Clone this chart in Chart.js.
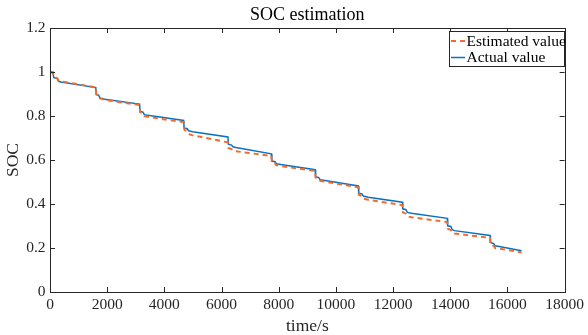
<!DOCTYPE html>
<html>
<head>
<meta charset="utf-8">
<script src="https://cdn.jsdelivr.net/npm/chart.js@4"></script>
<style>
html,body{margin:0;padding:0;background:#fff;}
#wrap{width:588px;height:335px;position:relative;}
</style>
</head>
<body>
<div id="wrap"><canvas id="c" width="588" height="335"></canvas></div>
<script>
// ---- data ----
const chartTitle = 'SOC estimation';
const xAxisTitle = 'time/s';
const yAxisTitle = 'SOC';
const seriesNames = ['Estimated value', 'Actual value'];

const timeActual = [0, 100, 130, 250, 300, 383, 1602, 1620, 1700, 1750, 1915, 3134, 3150, 3250, 3300, 3482,
  4677, 4690, 4800, 4850, 4990, 6222, 6240, 6350, 6400, 6500, 7741, 7760, 7870, 7920, 8067,
  9273, 9290, 9400, 9450, 9680, 10784, 10800, 10910, 10960, 11132, 12326, 12340, 12450, 12500, 12640,
  13893, 13910, 14020, 14070, 14147, 15390, 15405, 15520, 15570, 15715, 16495];
const socActual = [1.000, 1.000, 0.975, 0.970, 0.958, 0.955, 0.929, 0.897, 0.895, 0.882, 0.876, 0.854, 0.822, 0.818, 0.806, 0.802,
  0.780, 0.746, 0.742, 0.733, 0.728, 0.705, 0.672, 0.668, 0.660, 0.657, 0.628, 0.595, 0.592, 0.583, 0.580,
  0.556, 0.524, 0.520, 0.510, 0.506, 0.482, 0.449, 0.446, 0.436, 0.431, 0.408, 0.378, 0.374, 0.362, 0.358,
  0.335, 0.301, 0.298, 0.283, 0.279, 0.257, 0.225, 0.220, 0.210, 0.207, 0.187];

const timeEstimated = [0, 100, 130, 250, 300, 383, 1602, 1620, 1700, 1750, 1915, 3134, 3150, 3250, 3300, 3482,
  4677, 4700, 4800, 4850, 4990, 6222, 6240, 6350, 6400, 6500, 7741, 7760, 7870, 7920, 8067,
  9273, 9290, 9400, 9450, 9680, 10784, 10800, 10910, 10960, 11132, 12326, 12340, 12450, 12500, 12640,
  13893, 13910, 14020, 14070, 14147, 15390, 15405, 15520, 15570, 15715, 16495];
const socEstimated = [1.000, 0.995, 0.978, 0.972, 0.962, 0.958, 0.930, 0.898, 0.893, 0.880, 0.873, 0.850, 0.818, 0.812, 0.800, 0.795,
  0.772, 0.738, 0.728, 0.718, 0.712, 0.680, 0.655, 0.650, 0.642, 0.640, 0.618, 0.588, 0.585, 0.576, 0.573,
  0.550, 0.520, 0.515, 0.505, 0.500, 0.476, 0.442, 0.437, 0.425, 0.419, 0.395, 0.362, 0.356, 0.344, 0.340,
  0.318, 0.288, 0.282, 0.270, 0.266, 0.246, 0.215, 0.210, 0.200, 0.197, 0.180];

const xMin = 0, xMax = 18000, xStep = 2000;
const yMin = 0, yMax = 1.2, yStep = 0.2;

// ---- styling ----
const FONT = '"Liberation Serif", "Times New Roman", serif';
const AXIS = '#262626';
const BLUE = '#0a72c2';
const ORANGE = '#f26b2f';

const toPts = (xs, ys) => xs.map((x, i) => ({x: x, y: ys[i]}));

const boxPlugin = {
  id: 'matlabBox',
  afterDraw(chart) {
    const ctx = chart.ctx;
    const a = chart.chartArea;
    const xs = chart.scales.x, ys = chart.scales.y;
    ctx.save();
    // box
    ctx.strokeStyle = AXIS;
    ctx.lineWidth = 1;
    ctx.strokeRect(Math.round(a.left) + 0.5, Math.round(a.top) + 0.5,
                   Math.round(a.right) - Math.round(a.left), Math.round(a.bottom) - Math.round(a.top));
    // inward ticks
    const tl = 5;
    ctx.beginPath();
    xs.ticks.forEach(t => {
      const px = Math.round(xs.getPixelForValue(t.value)) + 0.5;
      ctx.moveTo(px, a.bottom); ctx.lineTo(px, a.bottom - tl);
      ctx.moveTo(px, a.top); ctx.lineTo(px, a.top + tl);
    });
    ys.ticks.forEach(t => {
      const py = Math.round(ys.getPixelForValue(t.value)) + 0.5;
      ctx.moveTo(a.left, py); ctx.lineTo(a.left + tl, py);
      ctx.moveTo(a.right, py); ctx.lineTo(a.right - tl, py);
    });
    ctx.stroke();
    // title
    ctx.fillStyle = '#000';
    ctx.font = '18px ' + FONT;
    ctx.textAlign = 'center';
    ctx.textBaseline = 'alphabetic';
    ctx.fillText(chartTitle, (a.left + a.right) / 2, 20);
    // legend
    const lx = 449, ly = 31, lw = 115, lh = 35;
    ctx.fillStyle = '#fff';
    ctx.fillRect(lx, ly, lw, lh);
    ctx.strokeStyle = AXIS;
    ctx.lineWidth = 1;
    ctx.strokeRect(lx + 0.5, ly + 0.5, lw, lh);
    const entries = chart.data.datasets;
    const rowY = [41, 57.5];
    const baseY = [45.5, 62];
    entries.forEach((ds, i) => {
      ctx.strokeStyle = ds.borderColor;
      ctx.lineWidth = ds.borderWidth;
      ctx.setLineDash(ds.borderDash || []);
      ctx.beginPath();
      ctx.moveTo(451, rowY[i]); ctx.lineTo(465, rowY[i]);
      ctx.stroke();
      ctx.setLineDash([]);
      ctx.fillStyle = '#000';
      ctx.font = '15.5px ' + FONT;
      ctx.textAlign = 'left';
      ctx.fillText(ds.label, 466.5, baseY[i]);
    });
    ctx.restore();
  }
};

new Chart(document.getElementById('c'), {
  type: 'line',
  data: {
    datasets: [
      {
        label: seriesNames[0],
        data: toPts(timeEstimated, socEstimated),
        borderColor: ORANGE,
        borderWidth: 2,
        borderDash: [5, 4],
        pointRadius: 0,
        tension: 0,
        fill: false
      },
      {
        label: seriesNames[1],
        data: toPts(timeActual, socActual),
        borderColor: BLUE,
        borderWidth: 1.5,
        pointRadius: 0,
        tension: 0,
        fill: false
      }
    ]
  },
  options: {
    responsive: false,
    animation: false,
    events: [],
    layout: {padding: {top: 28, right: 21, left: 0, bottom: 0}},
    plugins: {
      legend: {display: false},
      title: {display: false},
      tooltip: {enabled: false}
    },
    scales: {
      x: {
        type: 'linear',
        min: xMin, max: xMax,
        afterFit: s => { s.height = 43; },
        ticks: {
          stepSize: xStep,
          color: AXIS,
          padding: 4,
          maxRotation: 0,
          autoSkip: false,
          font: {family: FONT, size: 15.5},
          callback: v => String(v)
        },
        grid: {display: false, drawTicks: false},
        border: {display: false},
        title: {
          display: true,
          text: xAxisTitle,
          color: AXIS,
          padding: 0,
          font: {family: FONT, size: 17.5, lineHeight: 1}
        }
      },
      y: {
        type: 'linear',
        min: yMin, max: yMax,
        afterFit: s => { s.width = 50; },
        ticks: {
          stepSize: yStep,
          color: AXIS,
          padding: 4.5,
          autoSkip: false,
          font: {family: FONT, size: 15.5},
          callback: v => String(Number(v.toFixed(1)))
        },
        grid: {display: false, drawTicks: false},
        border: {display: false},
        title: {
          display: true,
          text: yAxisTitle,
          color: AXIS,
          padding: {top: 5, bottom: 0},
          font: {family: FONT, size: 17.5, lineHeight: 1}
        }
      }
    }
  },
  plugins: [boxPlugin]
});
</script>
</body>
</html>
